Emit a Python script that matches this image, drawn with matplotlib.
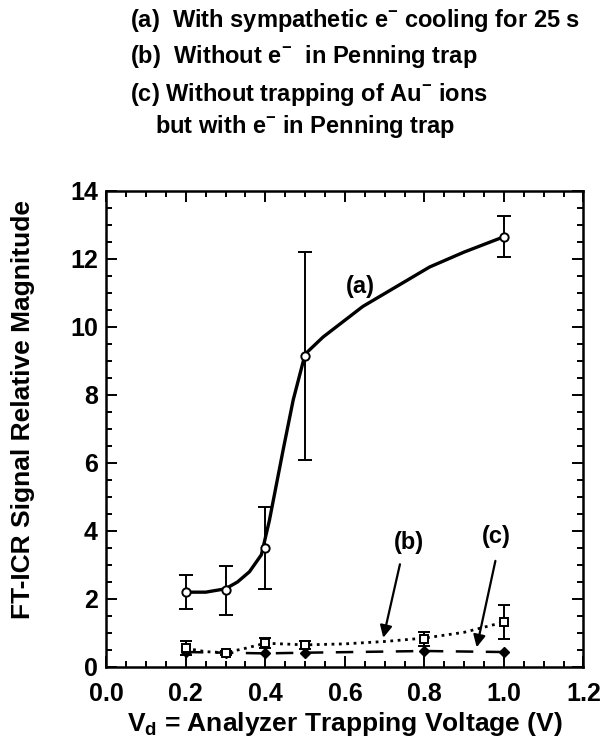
import numpy as np
import matplotlib
matplotlib.use("Agg")
import matplotlib.pyplot as plt
from matplotlib.ticker import MultipleLocator

plt.rcParams['font.family'] = ['Liberation Sans', 'DejaVu Sans']
plt.rcParams['font.weight'] = 'bold'
plt.rcParams['mathtext.fontset'] = 'custom'
plt.rcParams['mathtext.rm'] = 'Liberation Sans:bold'
plt.rcParams['mathtext.it'] = 'Liberation Sans:bold'
plt.rcParams['mathtext.bf'] = 'Liberation Sans:bold'

# measured points
x_a = [0.2, 0.3, 0.4, 0.5, 1.0]
y_a = [2.2, 2.25, 3.5, 9.15, 12.65]
err_a = [0.5, 0.72, 1.2, 3.05, 0.6]

x_b = [0.2, 0.3, 0.4, 0.5, 0.8, 1.0]
y_b = [0.55, 0.42, 0.7, 0.65, 0.82, 1.32]
err_b = [0.2, 0.06, 0.15, 0.12, 0.2, 0.5]

x_c = [0.2, 0.3, 0.4, 0.5, 0.8, 1.0]
y_c = [0.44, 0.42, 0.4, 0.42, 0.47, 0.44]

# hand drawn guide curves
curve_a_x = [0.2, 0.25, 0.3, 0.33, 0.36, 0.39, 0.41, 0.445, 0.47, 0.5, 0.545, 0.645, 0.813, 0.9, 1.0]
curve_a_y = [2.2, 2.2, 2.3, 2.5, 2.8, 3.3, 4.3, 6.4, 7.85, 9.2, 9.7, 10.6, 11.76, 12.2, 12.65]
curve_b_x = [0.2, 0.25, 0.3, 0.35, 0.4, 0.5, 0.6, 0.7, 0.8, 0.9, 1.0]
curve_b_y = [0.55, 0.45, 0.42, 0.55, 0.7, 0.65, 0.68, 0.75, 0.85, 1.02, 1.32]

fig = plt.figure(figsize=(6.04, 7.44), dpi=100)
ax = fig.add_axes([0.176, 0.1035, 0.790, 0.640])

ax.plot(curve_a_x, curve_a_y, '-', color='k', lw=2.4)
ax.errorbar(x_a, y_a, yerr=err_a, fmt='o', mfc='white', mec='k', ms=6, mew=1.4,
            ecolor='k', elinewidth=1.4, capsize=5, capthick=1.6)

ax.plot(curve_b_x, curve_b_y, ':', color='k', lw=2.0)
ax.errorbar(x_b, y_b, yerr=err_b, fmt='s', mfc='white', mec='k', ms=6, mew=1.4,
            ecolor='k', elinewidth=1.4, capsize=4, capthick=1.6)

ax.plot(x_c, y_c, color='k', lw=1.8, dashes=(7, 5))
ax.plot(x_c, y_c, 'D', color='k', ms=5, ls='none')

ax.text(0.64, 11.2, '(a)', fontsize=17, fontweight='bold', ha='center', va='center')
ax.text(0.76, 3.65, '(b)', fontsize=17, fontweight='bold', ha='center', va='center')
ax.text(0.98, 3.85, '(c)', fontsize=17, fontweight='bold', ha='center', va='center')
ax.annotate('', xy=(0.695, 0.78), xytext=(0.74, 3.1),
            arrowprops=dict(arrowstyle='-|>', color='k', lw=1.6, mutation_scale=18))
ax.annotate('', xy=(0.93, 0.5), xytext=(0.98, 3.2),
            arrowprops=dict(arrowstyle='-|>', color='k', lw=1.6, mutation_scale=18))

ax.set_xlim(0, 1.2)
ax.set_ylim(0, 14)
ax.xaxis.set_major_locator(MultipleLocator(0.2))
ax.xaxis.set_minor_locator(MultipleLocator(0.05))
ax.yaxis.set_major_locator(MultipleLocator(2))
ax.yaxis.set_minor_locator(MultipleLocator(0.5))
ax.set_xticks([0.0, 0.2, 0.4, 0.6, 0.8, 1.0, 1.2])
ax.set_xticklabels(['0.0', '0.2', '0.4', '0.6', '0.8', '1.0', '1.2'])
ax.tick_params(which='both', direction='in', top=True, right=True, width=1.4)
ax.tick_params(which='major', length=8, labelsize=18)
ax.tick_params(axis='x', which='major', pad=11)
ax.tick_params(axis='y', which='major', pad=6)
ax.tick_params(which='minor', length=4)
for lbl in ax.get_xticklabels() + ax.get_yticklabels():
    lbl.set_fontweight('bold')
for s in ax.spines.values():
    s.set_linewidth(1.8)

ax.set_xlabel(r'V$_{\mathregular{d}}$ = Analyzer Trapping Voltage (V)', fontsize=19, fontweight='bold', labelpad=3)
ax.set_ylabel('FT-ICR Signal Relative Magnitude', fontsize=19, fontweight='bold')
ax.yaxis.set_label_coords(-0.15, 0.54)

fig.text(0.215, 0.972, r'(a)  With sympathetic e$^{-}$ cooling for 25 s', fontsize=17, fontweight='bold', va='center')
fig.text(0.215, 0.924, r'(b)  Without e$^{-}$  in Penning trap', fontsize=17, fontweight='bold', va='center')
fig.text(0.215, 0.873, r'(c) Without trapping of Au$^{-}$ ions', fontsize=17, fontweight='bold', va='center')
fig.text(0.257, 0.830, r'but with e$^{-}$ in Penning trap', fontsize=17, fontweight='bold', va='center')

fig.savefig('out.png', dpi=100)
